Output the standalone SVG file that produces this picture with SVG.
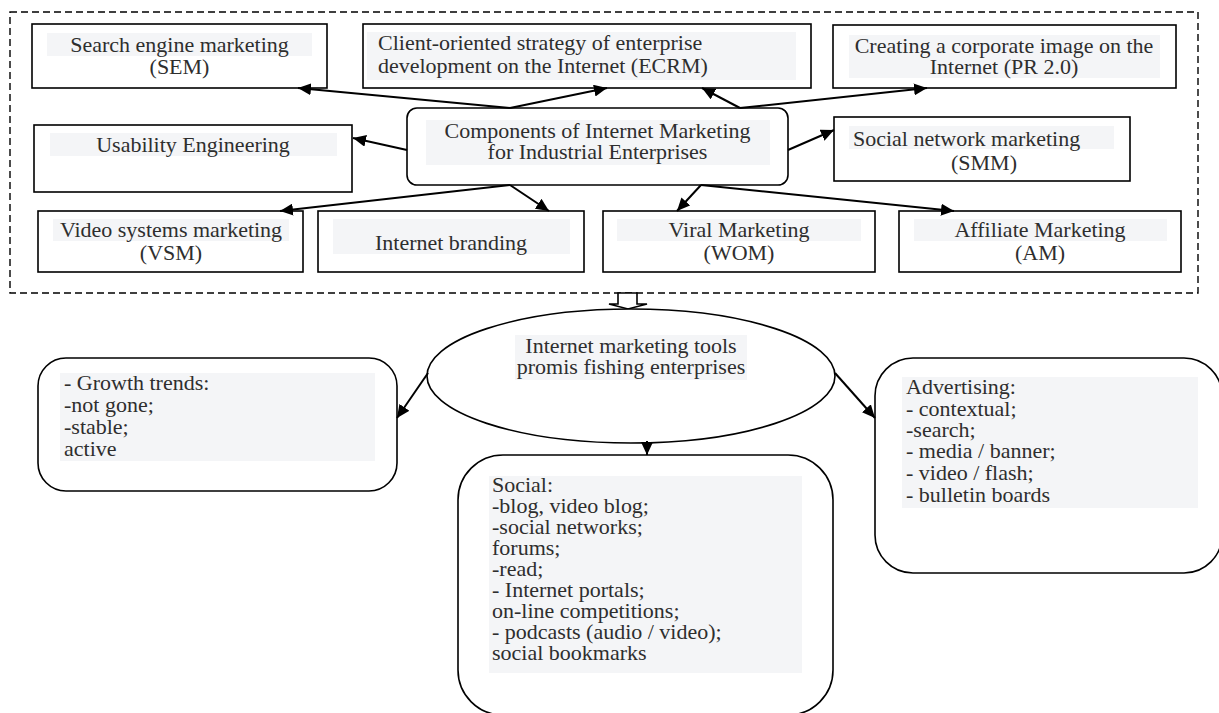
<svg xmlns="http://www.w3.org/2000/svg" width="1219" height="713" viewBox="0 0 1219 713">
<style>
.box{fill:#fff;stroke:#000;stroke-width:1.6}
.hl{fill:#f4f5f7;stroke:none}
.t{font-family:"Liberation Serif","Times New Roman",serif;font-size:20px;fill:#2e2e2e}
.c{text-anchor:middle}
.frame{fill:none;stroke:#000;stroke-width:1.4;stroke-dasharray:7 4}
.arr{fill:none;stroke:#000;stroke-width:2;marker-end:url(#ah)}
</style>
<defs>
<marker id="ah" markerUnits="userSpaceOnUse" markerWidth="14" markerHeight="12" refX="13" refY="6" orient="auto">
<path d="M0,0 L13,6 L0,12 Z" fill="#000"/>
</marker>
</defs>
<rect id="container" class="frame" x="10" y="12" width="1188" height="281"/>

<g id="sem">
<rect class="box" x="32" y="24" width="295" height="64"/>
<rect class="hl" x="47" y="33" width="265" height="23"/>
<text class="t c" transform="translate(179.5 0) scale(1.1 1)"><tspan x="0" y="52">Search engine marketing</tspan><tspan x="0" y="74">(SEM)</tspan></text>
</g>

<g id="ecrm">
<rect class="box" x="363" y="24" width="448" height="64"/>
<rect class="hl" x="367" y="32" width="429" height="48"/>
<text class="t" transform="translate(378 0) scale(1.1 1)"><tspan x="0" y="50">Client-oriented strategy of enterprise</tspan><tspan x="0" y="73">development on the Internet (ECRM)</tspan></text>
</g>

<g id="pr">
<rect class="box" x="833" y="25" width="343" height="63"/>
<rect class="hl" x="849" y="35" width="311" height="43"/>
<text class="t c" transform="translate(1004 0) scale(1.1 1)"><tspan x="0" y="53">Creating a corporate image on the</tspan><tspan x="0" y="74">Internet  (PR 2.0)</tspan></text>
</g>

<g id="usability">
<rect class="box" x="34" y="125" width="318" height="67"/>
<rect class="hl" x="50" y="133" width="287" height="23"/>
<text class="t c" transform="translate(193 0) scale(1.1 1)"><tspan x="0" y="152">Usability Engineering</tspan></text>
</g>

<g id="components">
<rect class="box" x="407" y="108" width="381" height="77" rx="10"/>
<rect class="hl" x="426" y="120" width="344" height="45"/>
<text class="t c" transform="translate(597.5 0) scale(1.1 1)"><tspan x="0" y="138">Components of Internet Marketing</tspan><tspan x="0" y="159">for Industrial Enterprises</tspan></text>
</g>

<g id="smm">
<rect class="box" x="834" y="117" width="296" height="64"/>
<rect class="hl" x="849" y="126" width="265" height="23"/>
<text class="t" transform="translate(853 0) scale(1.1 1)"><tspan x="0" y="146">Social network marketing</tspan></text>
<text class="t c" transform="translate(984 0) scale(1.1 1)"><tspan x="0" y="170">(SMM)</tspan></text>
</g>

<g id="vsm">
<rect class="box" x="38" y="211" width="265" height="61"/>
<rect class="hl" x="53" y="219" width="236" height="22"/>
<text class="t c" transform="translate(171 0) scale(1.1 1)"><tspan x="0" y="237">Video systems marketing</tspan><tspan x="0" y="260">(VSM)</tspan></text>
</g>

<g id="branding">
<rect class="box" x="318" y="211" width="266" height="61"/>
<rect class="hl" x="333" y="219" width="237" height="35"/>
<text class="t c" transform="translate(451 0) scale(1.1 1)"><tspan x="0" y="250">Internet branding</tspan></text>
</g>

<g id="viral">
<rect class="box" x="603" y="211" width="272" height="61"/>
<rect class="hl" x="617" y="219" width="244" height="22"/>
<text class="t c" transform="translate(739 0) scale(1.1 1)"><tspan x="0" y="237">Viral Marketing</tspan><tspan x="0" y="260">(WOM)</tspan></text>
</g>

<g id="affiliate">
<rect class="box" x="899" y="211" width="282" height="61"/>
<rect class="hl" x="914" y="219" width="253" height="22"/>
<text class="t c" transform="translate(1040 0) scale(1.1 1)"><tspan x="0" y="237">Affiliate Marketing</tspan><tspan x="0" y="260">(AM)</tspan></text>
</g>

<g id="transition">
<path d="M618,293 L637,293 L637,304 L647,304 L628,309 L609,304 L618,304 Z" fill="#fff" stroke="#000" stroke-width="1.6"/>
</g>

<g id="tools">
<ellipse class="box" cx="631" cy="376" rx="204" ry="67"/>
<rect class="hl" x="515" y="335" width="232" height="45"/>
<text class="t c" transform="translate(631 0) scale(1.1 1)"><tspan x="0" y="353">Internet marketing tools</tspan><tspan x="0" y="374">promis fishing enterprises</tspan></text>
</g>

<g id="growth">
<rect class="box" x="38" y="358" width="359" height="133" rx="28"/>
<rect class="hl" x="60" y="373" width="315" height="88"/>
<text class="t" transform="translate(64 0) scale(1.1 1)"><tspan x="0" y="390">- Growth trends:</tspan><tspan x="0" y="412">-not gone;</tspan><tspan x="0" y="434">-stable;</tspan><tspan x="0" y="456">active</tspan></text>
</g>

<g id="social">
<rect class="box" x="458" y="455" width="375" height="260" rx="45"/>
<rect class="hl" x="489" y="476" width="313" height="197"/>
<text class="t" transform="translate(492 0) scale(1.1 1)"><tspan x="0" y="492">Social:</tspan><tspan x="0" y="513">-blog, video blog;</tspan><tspan x="0" y="534">-social networks;</tspan><tspan x="0" y="555">forums;</tspan><tspan x="0" y="576">-read;</tspan><tspan x="0" y="597">- Internet portals;</tspan><tspan x="0" y="618">on-line competitions;</tspan><tspan x="0" y="639">- podcasts (audio / video);</tspan><tspan x="0" y="660">social bookmarks</tspan></text>
</g>

<g id="advertising">
<rect class="box" x="875" y="358" width="347" height="215" rx="38"/>
<rect class="hl" x="902" y="377" width="296" height="131"/>
<text class="t" transform="translate(906 0) scale(1.1 1)"><tspan x="0" y="394">Advertising:</tspan><tspan x="0" y="416">- contextual;</tspan><tspan x="0" y="437">-search;</tspan><tspan x="0" y="458">- media / banner;</tspan><tspan x="0" y="480">- video / flash;</tspan><tspan x="0" y="502">- bulletin boards</tspan></text>
</g>

<g id="connectors">
<line class="arr" x1="510" y1="108" x2="298" y2="88"/>
<line class="arr" x1="510" y1="108" x2="607" y2="88"/>
<line class="arr" x1="740" y1="108" x2="702" y2="88"/>
<line class="arr" x1="740" y1="108" x2="927" y2="88"/>
<line class="arr" x1="407" y1="150" x2="353" y2="138"/>
<line class="arr" x1="788" y1="150" x2="834" y2="130"/>
<line class="arr" x1="510" y1="185" x2="280" y2="211"/>
<line class="arr" x1="510" y1="185" x2="549" y2="211"/>
<line class="arr" x1="701" y1="185" x2="677" y2="211"/>
<line class="arr" x1="701" y1="185" x2="954" y2="211"/>
<line class="arr" x1="428" y1="373" x2="397" y2="418"/>
<line class="arr" x1="835" y1="373" x2="875" y2="418"/>
<line class="arr" x1="647" y1="441" x2="647" y2="455"/>
</g>
</svg>
